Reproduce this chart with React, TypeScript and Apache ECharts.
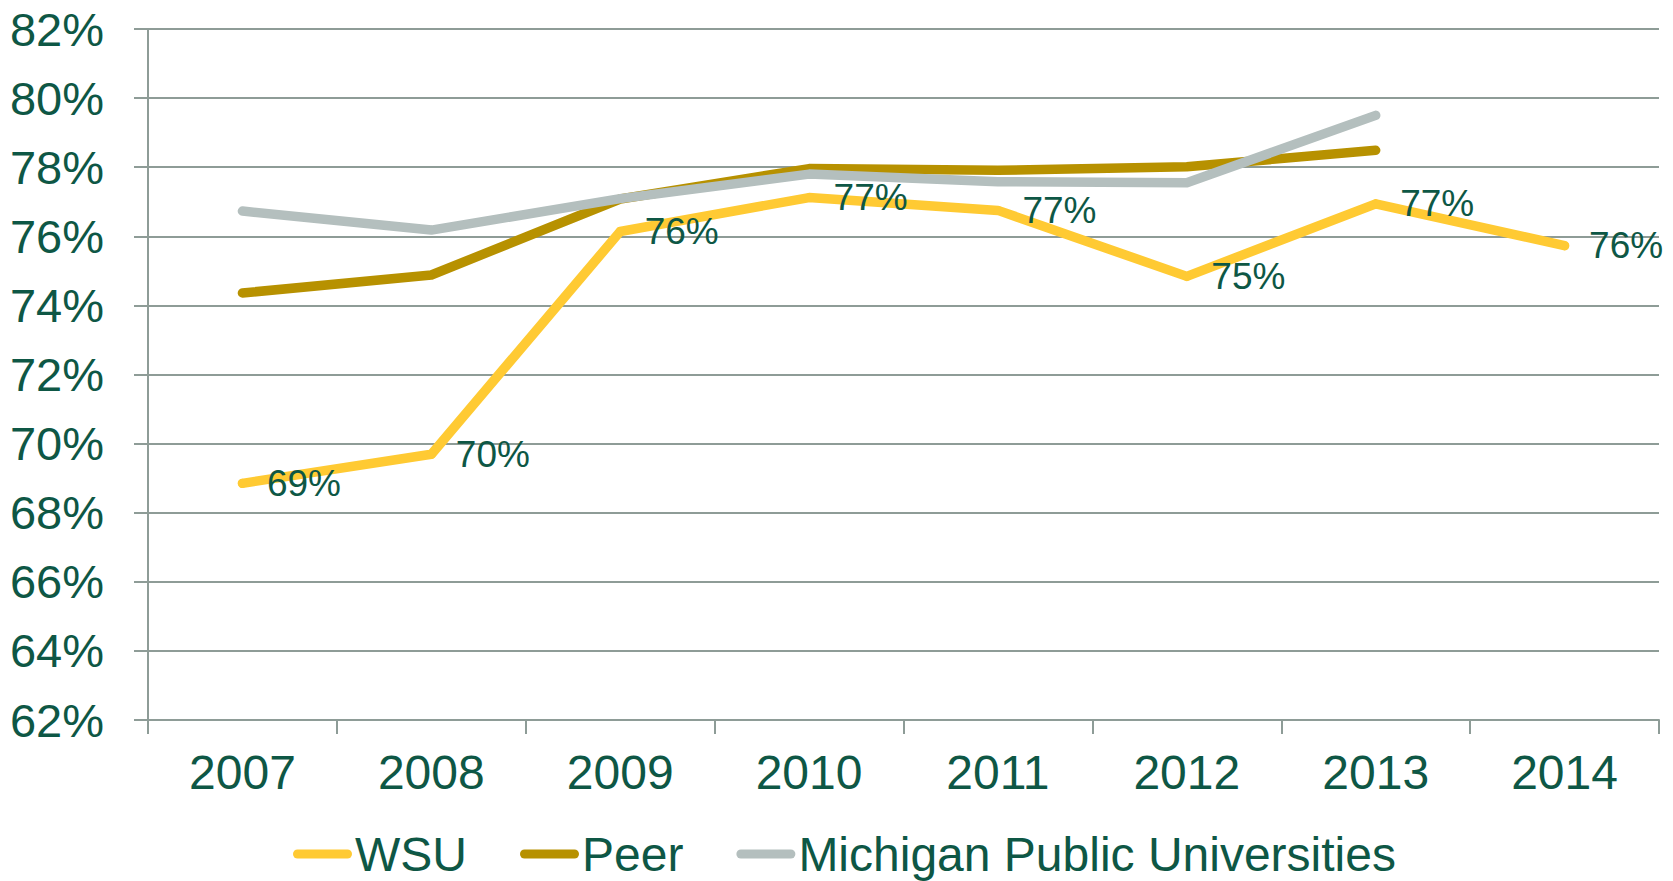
import React, { useEffect, useRef } from "react";
import * as echarts from "echarts";

const years = ["2007", "2008", "2009", "2010", "2011", "2012", "2013", "2014"];
const wsu = [68.85, 69.69, 76.14, 77.12, 76.75, 74.84, 76.94, 75.73];
const peer = [74.36, 74.88, 77.08, 77.96, 77.91, 78.01, 78.49, null];
const michigan = [76.73, 76.18, 77.09, 77.8, 77.58, 77.55, 79.5, null];
const seriesNames = ["WSU", "Peer", "Michigan Public Universities"];

const TEXT = "#0E5745";
const GRID = "#8E9C97";
const FONT = "'Liberation Sans', Arial, sans-serif";

export default function App() {
  const ref = useRef<HTMLDivElement>(null);
  useEffect(() => {
    const chart = echarts.init(ref.current!, undefined, { renderer: "svg" });
    const lineStyle = (color: string) => ({ color, width: 9.5, cap: "round", join: "round" });
    chart.setOption({
      animation: false,
      textStyle: { fontFamily: FONT },
      grid: { left: 148, right: 14, top: 29, bottom: 161, containLabel: false },
      legend: {
        data: seriesNames,
        left: 288,
        top: 824,
        itemWidth: 59,
        itemHeight: 9,
        itemGap: 53,
        icon: "path://M4.5,0 L54.5,0 A4.5,4.5 0 0 1 54.5,9 L4.5,9 A4.5,4.5 0 0 1 4.5,0 Z",
        textStyle: { color: TEXT, fontSize: 48, lineHeight: 50, fontFamily: FONT, padding: [0, 0, 0, -2] },
      },
      xAxis: {
        type: "category",
        data: years,
        boundaryGap: true,
        axisLine: { show: true, lineStyle: { color: GRID, width: 2 } },
        axisTick: { show: true, length: 14, lineStyle: { color: GRID, width: 2 } },
        axisLabel: { color: TEXT, fontSize: 48, fontFamily: FONT, margin: 28 },
        splitLine: { show: false },
      },
      yAxis: {
        type: "value",
        min: 62,
        max: 82,
        interval: 2,
        axisLine: { show: true, lineStyle: { color: GRID, width: 2 } },
        axisTick: { show: true, length: 14, lineStyle: { color: GRID, width: 2 } },
        axisLabel: { color: TEXT, fontSize: 47, fontFamily: FONT, margin: 44, formatter: "{value}%" },
        splitLine: { show: true, lineStyle: { color: GRID, width: 2 } },
      },
      series: [
        {
          name: seriesNames[0],
          type: "line",
          data: wsu,
          color: "#FFCA33",
          symbol: "circle",
          symbolSize: 9,
          showSymbol: true,
          itemStyle: { color: "#FFCA33" },
          lineStyle: lineStyle("#FFCA33"),
          label: {
            show: true,
            position: "right",
            distance: 20,
            color: TEXT,
            fontSize: 37,
            fontFamily: FONT,
            formatter: (p: any) => `${Math.round(p.value)}%`,
          },
          labelLayout: { hideOverlap: false },
        },
        {
          name: seriesNames[1],
          type: "line",
          data: peer,
          color: "#B79100",
          symbol: "none",
          lineStyle: lineStyle("#B79100"),
        },
        {
          name: seriesNames[2],
          type: "line",
          data: michigan,
          color: "#B4BFBE",
          symbol: "none",
          lineStyle: lineStyle("#B4BFBE"),
        },
      ],
    });
    return () => chart.dispose();
  }, []);
  return (
    <div
      ref={ref}
      style={{ position: "absolute", left: 0, top: 0, width: 1673, height: 881, background: "#fff" }}
    />
  );
}
